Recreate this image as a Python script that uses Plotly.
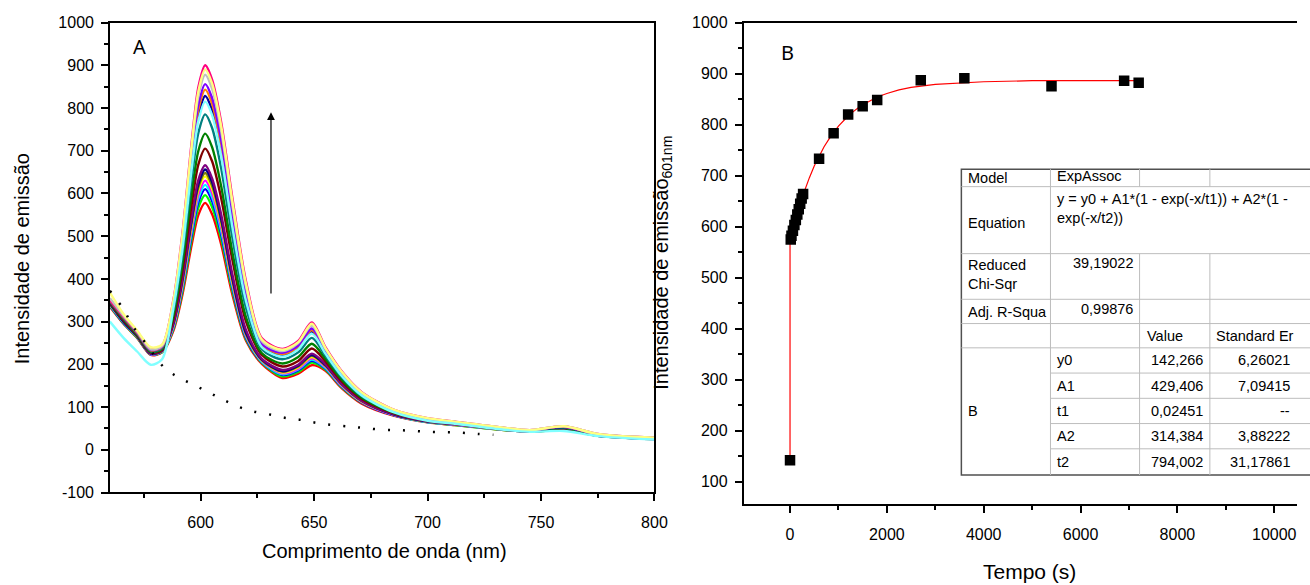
import plotly.graph_objects as go

W, H = 1310, 585

# ---------------- Panel A : emission spectra ----------------
wavelength = [560, 566, 572, 578, 583, 588, 592, 596, 599, 602, 605, 609, 614, 620, 627,
              636, 643, 649, 655, 662, 671, 685, 700, 712, 730, 745, 760, 775, 800]

s_red      = [335, 295, 262, 222, 228, 279, 364, 479, 550, 578, 552, 482, 363, 255, 201, 168, 178, 198, 185, 145, 108, 80, 64, 58, 48, 42, 47, 33, 25]
s_green    = [337, 296, 263, 223, 229, 283, 372, 492, 567, 596, 569, 496, 372, 259, 204, 172, 182, 204, 188, 147, 110, 81, 65, 58, 48, 42, 47, 33, 25]
s_blue     = [338, 297, 264, 223, 230, 286, 379, 502, 580, 610, 583, 506, 379, 262, 205, 175, 186, 208, 190, 149, 111, 81, 65, 59, 49, 42, 48, 33, 25]
s_cyan     = [339, 298, 264, 224, 230, 288, 383, 510, 589, 620, 592, 514, 384, 265, 206, 177, 188, 211, 192, 150, 112, 82, 65, 59, 49, 43, 48, 34, 25]
s_magenta  = [345, 305, 266, 224, 231, 290, 387, 517, 598, 630, 602, 522, 389, 267, 208, 179, 190, 214, 194, 151, 112, 82, 66, 59, 49, 43, 48, 34, 25]
s_yellow   = [340, 300, 266, 225, 231, 293, 392, 525, 608, 640, 611, 530, 393, 270, 209, 181, 193, 217, 196, 153, 113, 83, 66, 60, 49, 43, 49, 34, 26]
s_dkyellow = [342, 300, 265, 225, 231, 294, 395, 530, 615, 648, 619, 536, 398, 271, 210, 183, 195, 220, 197, 154, 114, 83, 66, 60, 49, 43, 49, 34, 26]
s_navy     = [342, 300, 266, 225, 232, 296, 399, 537, 622, 656, 627, 542, 401, 273, 211, 184, 197, 222, 198, 155, 115, 83, 66, 60, 49, 43, 49, 34, 26]
s_purple   = [345, 303, 268, 226, 232, 298, 403, 544, 632, 666, 636, 552, 410, 280, 213, 187, 199, 225, 200, 156, 115, 84, 67, 60, 50, 43, 49, 34, 26]
s_wine     = [345, 303, 268, 228, 234, 307, 421, 573, 668, 705, 676, 590, 444, 300, 222, 195, 208, 237, 207, 161, 119, 86, 68, 61, 50, 44, 50, 35, 26]
s_olive    = [347, 306, 270, 229, 236, 315, 437, 599, 700, 740, 709, 618, 462, 310, 226, 202, 217, 248, 213, 165, 122, 87, 69, 62, 51, 44, 51, 35, 27]
s_dkcyan   = [348, 308, 272, 231, 238, 325, 457, 632, 742, 785, 754, 660, 496, 332, 235, 212, 228, 262, 220, 171, 125, 89, 70, 63, 52, 45, 52, 36, 27]
s_royal    = [350, 310, 274, 233, 240, 335, 476, 664, 782, 828, 796, 699, 528, 351, 243, 221, 238, 276, 228, 176, 129, 91, 72, 64, 53, 45, 53, 36, 27]
s_orange   = [350, 310, 274, 233, 241, 338, 483, 675, 796, 843, 811, 714, 542, 363, 246, 224, 241, 280, 230, 178, 130, 92, 72, 65, 53, 45, 54, 36, 27]
s_violet   = [352, 312, 275, 234, 242, 341, 488, 685, 808, 856, 824, 726, 551, 368, 248, 227, 244, 284, 232, 180, 131, 92, 73, 65, 53, 45, 54, 36, 28]
s_pink     = [350, 312, 276, 236, 244, 351, 508, 718, 849, 900, 867, 768, 589, 394, 261, 236, 255, 298, 240, 185, 135, 94, 74, 66, 54, 46, 55, 37, 28]
s_ltgray   = [355, 314, 277, 235, 243, 346, 498, 701, 828, 878, 846, 748, 571, 381, 254, 231, 250, 291, 236, 182, 133, 93, 73, 65, 54, 46, 55, 37, 28]
s_ltyellow = [368, 318, 279, 240, 246, 349, 504, 710, 839, 890, 858, 759, 581, 388, 258, 234, 252, 295, 238, 184, 134, 94, 74, 66, 54, 46, 55, 37, 28]
s_ltcyan   = [300, 262, 230, 199, 212, 332, 470, 655, 770, 815, 784, 689, 521, 348, 240, 218, 235, 272, 225, 174, 127, 88, 68, 61, 49, 42, 44, 32, 24]

# dotted reference curve
dot_wl  = [560, 566, 570, 575, 580, 584, 590, 597, 604, 610, 617, 623, 630, 637, 644, 651,
           658, 666, 672, 680, 687, 694, 701, 708, 715, 722, 729]
dot_val = [372, 329, 290, 255, 218, 192, 170, 152, 133, 117, 100, 90, 83, 75, 70, 63,
           58, 54, 51, 47, 46, 44, 42, 41, 40, 37, 35]

y_ticks_a = [-100, 0, 100, 200, 300, 400, 500, 600, 700, 800, 900, 1000]
y_ticktext_a = ["-100", "0", "100", "200", "300", "400", "500", "600", "700", "800", "900", "1000"]

# ---------------- Panel B : kinetics ----------------
time_s    = [0, 15, 30, 60, 90, 120, 150, 180, 210, 240, 270, 600, 900, 1200, 1500, 1800,
             2700, 3600, 5400, 6900, 7200]
intensity = [142, 575, 582, 592, 603, 613, 624, 634, 645, 655, 664, 733, 783, 820, 836, 848,
             887, 891, 875, 886, 882]

fit_time = [0, 0.05, 0.1, 0.2, 50, 100, 150, 200, 250, 300, 400, 500, 600, 700, 800, 1000,
            1150, 1300, 1450, 1600, 1800, 2000, 2250, 2500, 3000, 4000, 5000, 6000, 7200]
fit_val  = [142, 516, 564, 572, 591, 609, 626, 642, 657, 671, 696, 719, 738, 756, 771, 797,
            812, 825, 836, 844, 854, 861, 868, 873, 879, 884, 886, 886, 886]

table_rows = [
    ("Model", "ExpAssoc"),
    ("Equation", "y = y0 + A1*(1 - exp(-x/t1)) + A2*(1 -<br>exp(-x/t2))"),
    ("Reduced<br>Chi-Sqr", "39,19022"),
    ("Adj. R-Squa", "0,99876"),
]
param_names  = ["y0", "A1", "t1", "A2", "t2"]
param_values = ["142,266", "429,406", "0,02451", "314,384", "794,002"]
param_errors = ["6,26021", "7,09415", "--", "3,88222", "31,17861"]

# ---------------- figure ----------------
series = [
    (s_red, "#FF0000"), (s_green, "#00FF00"), (s_blue, "#0000FF"), (s_cyan, "#00FFFF"),
    (s_magenta, "#FF00FF"), (s_yellow, "#FFFF00"), (s_dkyellow, "#808000"), (s_navy, "#000080"),
    (s_purple, "#800080"), (s_wine, "#800000"), (s_olive, "#008000"), (s_dkcyan, "#008080"),
    (s_royal, "#0000A0"), (s_orange, "#FF8000"), (s_violet, "#8000FF"), (s_pink, "#FF0080"),
    (s_ltgray, "#C0C0C0"), (s_ltyellow, "#FFFF80"), (s_ltcyan, "#80FFFF"),
]

fig = go.Figure()
for vals, col in series:
    fig.add_trace(go.Scatter(x=wavelength, y=vals, mode="lines",
                             line=dict(color=col, width=2.4, shape="spline", smoothing=0.8),
                             xaxis="x", yaxis="y", showlegend=False, hoverinfo="skip"))

fig.add_trace(go.Scatter(x=dot_wl, y=dot_val, mode="lines",
                         line=dict(color="black", width=2.5, dash="2px,13px", shape="spline"),
                         xaxis="x", yaxis="y", showlegend=False))

fig.add_trace(go.Scatter(x=fit_time, y=fit_val, mode="lines",
                         line=dict(color="#FF0000", width=1.2),
                         xaxis="x2", yaxis="y2", showlegend=False))
fig.add_trace(go.Scatter(x=time_s, y=intensity, mode="markers",
                         marker=dict(symbol="square", size=10.5, color="black"),
                         xaxis="x2", yaxis="y2", showlegend=False))

FONT = "Liberation Sans, Arial, sans-serif"


def px(x):
    return x / W


def py(y):
    return 1 - y / H


axis_common = dict(showline=True, linecolor="black", linewidth=1.5, ticks="outside",
                   ticklen=7, tickwidth=1.5, tickcolor="black", showgrid=False,
                   zeroline=False, tickfont=dict(family=FONT, size=16, color="black"))
minor_common = dict(ticks="outside", ticklen=4, tickwidth=1.5, tickcolor="black")

fig.update_layout(
    width=W, height=H, margin=dict(l=0, r=0, t=0, b=0),
    paper_bgcolor="white", plot_bgcolor="white", showlegend=False,
    xaxis=dict(domain=[px(111), px(661)], range=[560, 800], anchor="y", mirror=True,
               tick0=600, dtick=50, ticklabelstandoff=8,
               minor=dict(tick0=575, dtick=25, **minor_common), **axis_common),
    yaxis=dict(domain=[py(499), py(15)], range=[-100, 1000], anchor="x", mirror=True,
               tickmode="array", tickvals=y_ticks_a, ticktext=y_ticktext_a,
               ticklabelstandoff=4,
               minor=dict(tickmode="linear", tick0=-50, dtick=50, **minor_common),
               **axis_common),
    xaxis2=dict(domain=[px(751), 1.0], range=[-960, 10470], anchor="y2", mirror=True,
                tick0=0, dtick=2000, tickformat="d", ticklabelstandoff=8,
                minor=dict(dtick=1000, **minor_common), **axis_common),
    yaxis2=dict(domain=[py(511), py(15)], range=[56, 1000], anchor="x2",
                tick0=100, dtick=100, ticklabelstandoff=4,
                minor=dict(dtick=50, **minor_common), **axis_common),
)

ann = []


def text(x, y, s, size=14.5, xanchor="center", yanchor="middle", angle=0, family=FONT,
         align="left"):
    ann.append(dict(x=px(x), y=py(y), xref="paper", yref="paper", text=s, showarrow=False,
                    xanchor=xanchor, yanchor=yanchor, textangle=angle, align=align,
                    font=dict(family=family, size=size, color="black")))


# axis titles and panel labels
text(22, 258, "Intensidade de emissão", size=20, angle=-90)
text(388, 559, "Comprimento de onda (nm)", size=20)
text(669, 262, "Intensidade de emissão<sub>601nm</sub>", size=20, angle=-90)
text(1040, 580, "Tempo (s)", size=21)
text(141, 40, "A", size=20, family="Noto Sans, Liberation Sans")
text(795, 46, "B", size=20, family="Noto Sans, Liberation Sans")

# arrow in panel A
ann.append(dict(x=631, y=790, ax=631, ay=362, xref="x", yref="y", axref="x", ayref="y",
                text="", showarrow=True, arrowhead=2, arrowsize=1.3, arrowwidth=1.2,
                arrowcolor="black"))

# ---------------- fit table ----------------
TX = [971, 1061, 1151, 1222, 1345]
TY = [166, 184, 253, 300, 325, 350, 376, 402, 428, 454, 481]
shapes = []
INNER = dict(color="#BDBDBD", width=1)
OUTER = dict(color="#505050", width=1.5)


def hline(x0, x1, y, line):
    shapes.append(dict(type="line", xref="paper", yref="paper", x0=px(x0), x1=px(x1),
                       y0=py(y), y1=py(y), line=line))


def vline(x, y0, y1, line):
    shapes.append(dict(type="line", xref="paper", yref="paper", x0=px(x), x1=px(x),
                       y0=py(y0), y1=py(y1), line=line))


shapes.append(dict(type="rect", xref="paper", yref="paper", x0=px(TX[0]), x1=px(TX[-1]),
                   y0=py(TY[-1]), y1=py(TY[0]), line=OUTER, fillcolor="white", layer="above"))
for i in range(1, 6):
    hline(TX[0], TX[-1], TY[i], INNER)
for i in range(6, 10):
    hline(TX[1], TX[-1], TY[i], INNER)
vline(TX[1], TY[0], TY[-1], INNER)
for xx in (TX[2], TX[3]):
    vline(xx, TY[0], TY[1], INNER)
    vline(xx, TY[2], TY[-1], INNER)

L0 = TX[0] + 5
L1 = TX[1] + 5
text(L0, TY[0] + 9, table_rows[0][0], xanchor="left")
text(L1, TY[0] + 7, table_rows[0][1], xanchor="left")
text(L0, 221, table_rows[1][0], xanchor="left")
text(L1, TY[1] + 2, table_rows[1][1], xanchor="left", yanchor="top")
text(L0, 274, table_rows[2][0], xanchor="left")
text(TX[2] - 5, 263, table_rows[2][1], xanchor="right")
text(L0, 313, table_rows[3][0], xanchor="left")
text(TX[2] - 5, 310, table_rows[3][1], xanchor="right")
text(TX[2] + 5, 338, "Value", xanchor="left")
text(TX[3] + 4, 338, "Standard Er", xanchor="left")
text(L0, 415, "B", xanchor="left")
for i, (nm, v, e) in enumerate(zip(param_names, param_values, param_errors)):
    yc = (TY[5 + i] + TY[6 + i]) / 2
    text(L1, yc, nm, xanchor="left")
    text(TX[3] - 5, yc, v, xanchor="right")
    text(1305, yc, e, xanchor="right")

fig.update_layout(annotations=ann, shapes=shapes)
fig.write_html("out.html")
